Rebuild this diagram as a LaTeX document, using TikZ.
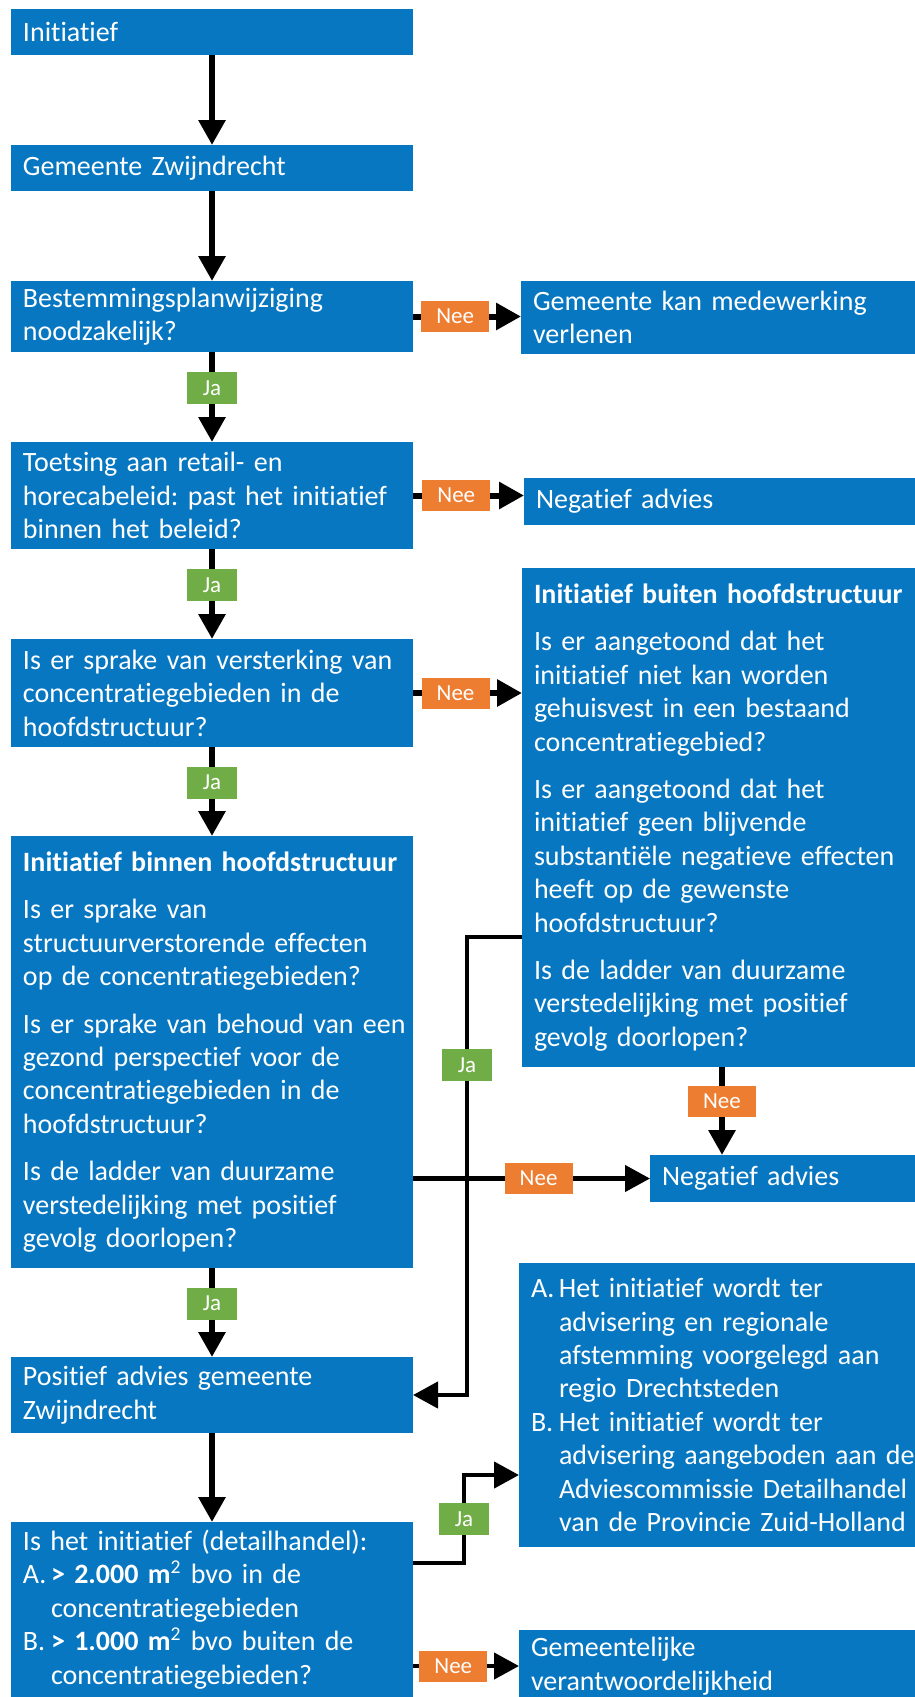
\documentclass[tikz,border=0pt]{standalone}
\usepackage{fontspec}
\setmainfont{Carlito}[Ligatures=NoCommon]
\usepackage{xcolor}
\usetikzlibrary{calc, positioning, arrows.meta}

\definecolor{boxblue}{RGB}{8,119,193}
\definecolor{neeorange}{RGB}{237,125,49}
\definecolor{jagreen}{RGB}{112,173,71}

\frenchspacing
\newcommand{\boxfont}{\fontsize{14pt}{16.7pt}\selectfont\setlength{\parindent}{0pt}\setlength{\parskip}{0pt}}
\newcommand{\tagfont}{\fontsize{11.5pt}{13pt}\selectfont}
\newcommand{\nextq}{\par\vspace{7pt}}
\newcommand{\hangitem}[1]{\hangindent=14pt\hangafter=1\noindent\makebox[14pt][l]{#1}}

\begin{document}
\begin{tikzpicture}
    % Block styles
    \tikzstyle{block} = [rectangle, fill=boxblue, text=white, font=\boxfont, align=left, inner xsep=6pt, inner ysep=1pt, outer sep=0pt]
    \tikzstyle{leftblock} = [block, text width=189pt]
    \tikzstyle{rightblock} = [block, text width=200pt]
    \tikzstyle{nee} = [rectangle, fill=neeorange, text=white, font=\tagfont, minimum width=34pt, minimum height=15.5pt, inner sep=0pt]
    \tikzstyle{ja} = [nee, fill=jagreen, minimum width=25pt, minimum height=16pt]
    \tikzstyle{flow} = [line width=3pt, -{Triangle[length=12.5pt, width=13pt]}]
    \tikzstyle{link} = [line width=2.2pt, -{Triangle[length=12.5pt, width=13pt]}]

    \useasboundingbox (0,0) rectangle (457.5pt,-848.5pt);

    % Main column
    \node[leftblock, minimum height=23pt, anchor=north west] (init) at (5.5pt,-4.5pt) {Initiatief};
    \node[leftblock, minimum height=23pt, below=45pt of init] (gemeente) {Gemeente Zwijndrecht};
    \node[leftblock, minimum height=35.5pt, below=45pt of gemeente] (bpw) {Bestemmingsplanwijziging\\noodzakelijk?};
    \node[leftblock, minimum height=53.5pt, below=45pt of bpw] (toetsing) {Toetsing aan retail- en\\\mbox{horecabeleid: past het initiatief}\\binnen het beleid?};
    \node[leftblock, minimum height=54pt, below=45pt of toetsing] (versterking) {\mbox{Is er sprake van versterking van}\\concentratiegebieden in de\\hoofdstructuur?};
    \node[leftblock, minimum height=216pt, below=44.5pt of versterking] (binnen) {\mbox{\textbf{Initiatief binnen hoofdstructuur}}\nextq
        Is er sprake van\\\mbox{structuurverstorende effecten}\\\mbox{op de concentratiegebieden?}\nextq
        \mbox{Is er sprake van behoud van een}\\gezond perspectief voor de\\concentratiegebieden in de\\hoofdstructuur?\nextq
        Is de ladder van duurzame\\verstedelijking met positief\\gevolg doorlopen?};
    \node[leftblock, minimum height=38pt, below=44.5pt of binnen] (positief) {Positief advies gemeente\\Zwijndrecht};
    \node[leftblock, minimum height=87.5pt, below=44.5pt of positief] (detail) {\mbox{Is het initiatief (detailhandel):}\par
        \hangitem{A.}\textbf{> 2.000 m}\textsuperscript{2} bvo in de\newline concentratiegebieden\par
        \hangitem{B.}\textbf{> 1.000 m}\textsuperscript{2} bvo buiten de\newline concentratiegebieden?\par};

    % Side outcomes
    \node[rightblock, minimum height=36.5pt, right=54pt of bpw.north east, anchor=north west] (medewerking) {Gemeente kan medewerking\\verlenen};
    \node[rightblock, minimum height=23.5pt, right=55.5pt of toetsing.north east, anchor=north west, yshift=-18pt] (negatief1) {Negatief advies};
    \node[rightblock, minimum height=249.5pt, right=54.5pt of versterking.north east, anchor=north west, yshift=35.5pt] (buiten) {\textbf{Initiatief buiten hoofdstructuur}\nextq
        Is er aangetoond dat het\\initiatief niet kan worden\\gehuisvest in een bestaand\\concentratiegebied?\nextq
        Is er aangetoond dat het\\initiatief geen blijvende\\substanti\"ele negatieve effecten\\heeft op de gewenste\\hoofdstructuur?\nextq
        Is de ladder van duurzame\\verstedelijking met positief\\gevolg doorlopen?};
    \node[rightblock, text width=125pt, minimum height=23.5pt, below=44pt of buiten.south west, anchor=north west, xshift=64pt] (negatief2) {Negatief advies};
    \node[rightblock, minimum height=142pt, right=53pt of positief.north east, anchor=north west, yshift=47pt] (regio) {\hangitem{A.}Het initiatief wordt ter\newline advisering en regionale\newline afstemming voorgelegd aan\newline regio Drechtsteden\par
        \hangitem{B.}Het initiatief wordt ter\newline advisering aangeboden aan de\newline Adviescommissie Detailhandel\newline van de Provincie Zuid-Holland\par};
    \node[rightblock, minimum height=36pt, right=53pt of detail.north east, anchor=north west, yshift=-54pt] (verantw) {Gemeentelijke\\verantwoordelijkheid};

    % Bend points
    \coordinate (nee4start) at ($(buiten.south west)+(100pt,0)$);
    \coordinate (ja4start) at ($(buiten.north west)+(0,-184.5pt)$);
    \coordinate (ja4bend) at ($(positief.east)+(27pt,0)$);
    \coordinate (ja6start) at ($(detail.north east)+(0,-20.5pt)$);
    \coordinate (ja6bend) at ($(regio.north west)+(-27.5pt,-106pt)$);

    % Connections
    \draw[flow] (init) -- (gemeente);
    \draw[flow] (gemeente) -- (bpw);
    \draw[flow] (bpw) -- node[ja, pos=.4] (ja1) {Ja} (toetsing);
    \draw[flow] (toetsing) -- node[ja, pos=.4] (ja2) {Ja} (versterking);
    \draw[flow] (versterking) -- node[ja, pos=.4] (ja3) {Ja} (binnen);
    \draw[flow] (binnen) -- node[ja, pos=.4] (ja5) {Ja} (positief);
    \draw[flow] (positief) -- (detail);

    \draw[flow] (bpw.east) -- node[nee, pos=.39] (nee1) {Nee} (bpw.east -| medewerking.west);
    \draw[flow] (toetsing.east) -- node[nee, pos=.39] (nee2) {Nee} (toetsing.east -| negatief1.west);
    \draw[flow] (versterking.east) -- node[nee, pos=.39] (nee3) {Nee} (versterking.east -| buiten.west);
    \draw[flow] (nee4start) -- node[nee, pos=.39] (nee4) {Nee} (nee4start |- negatief2.north);
    \draw[link] (binnen.east |- negatief2.west) -- node[nee, pos=.53] (nee5) {Nee} (negatief2.west);
    \draw[link] (detail.east |- verantw.west) -- node[nee, pos=.38] (nee6) {Nee} (verantw.west);

    \draw[link] (ja4start) -| node[ja, pos=.64] (ja4) {Ja} (ja4bend) -- (positief.east);
    \draw[link] (ja6start) -| node[ja, pos=.75] (ja6) {Ja} (ja6bend) -- (ja6bend -| regio.west);
\end{tikzpicture}
\end{document}
